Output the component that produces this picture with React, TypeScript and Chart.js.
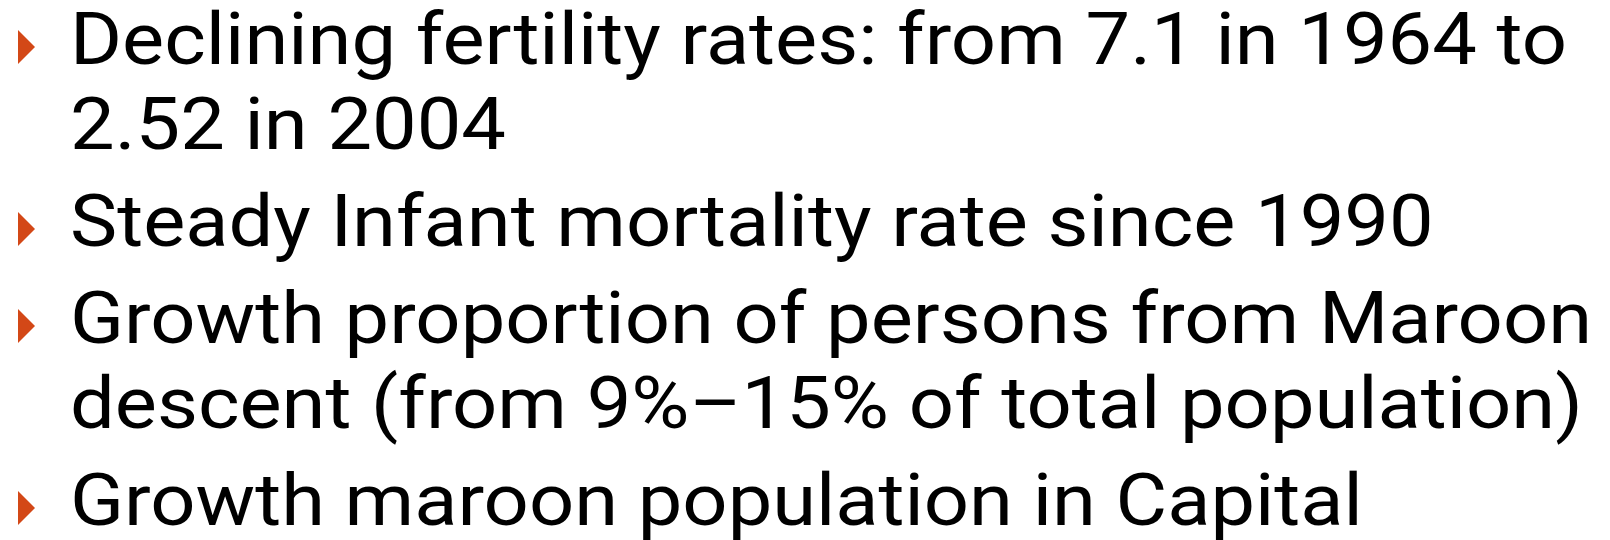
import { useEffect, useRef } from "react";
import { Chart, registerables } from "chart.js";

Chart.register(...registerables);

// Slide content: bullet items, each a list of wrapped lines
const bulletFertility = ["Declining fertility rates: from 7.1 in 1964 to", "2.52 in 2004"];
const bulletInfant = ["Steady Infant mortality rate since 1990"];
const bulletMaroon = ["Growth proportion of persons from Maroon", "descent (from 9%–15% of total population)"];
const bulletCapital = ["Growth maroon population in Capital"];
const bulletItems = [bulletFertility, bulletInfant, bulletMaroon, bulletCapital];

const W = 1610;
const H = 540;

const bulletTextPlugin = {
  id: "bulletText",
  afterDraw(chart: any) {
    const ctx = chart.ctx as CanvasRenderingContext2D;
    const fontSize = 73;
    const textX = 70;
    const targetWidth = 1497;
    const firstBaseline = 64;
    const lineHeight = 85;
    const paraGap = 97;
    const triLeft = 18;
    const triW = 17;
    const triH = 34;
    ctx.save();
    ctx.font = `400 ${fontSize}px Roboto`;
    ctx.textBaseline = "alphabetic";
    ctx.textAlign = "left";
    const sx = targetWidth / ctx.measureText(bulletItems[0][0]).width;
    let y = firstBaseline;
    bulletItems.forEach((lines, bi) => {
      if (bi > 0) y += paraGap;
      // bullet triangle
      ctx.fillStyle = "#D34817";
      ctx.beginPath();
      ctx.moveTo(triLeft, y - triH);
      ctx.lineTo(triLeft + triW, y - triH / 2);
      ctx.lineTo(triLeft, y);
      ctx.closePath();
      ctx.fill();
      lines.forEach((line, li) => {
        if (li > 0) y += lineHeight;
        ctx.save();
        ctx.translate(textX, y);
        ctx.scale(sx, 1);
        ctx.fillStyle = "#000000";
        ctx.fillText(line, 0, 0);
        ctx.restore();
      });
    });
    ctx.restore();
  },
};

export default function App() {
  const canvasRef = useRef<HTMLCanvasElement | null>(null);

  useEffect(() => {
    const canvas = canvasRef.current;
    if (!canvas) return;
    const chart = new Chart(canvas, {
      type: "scatter",
      data: { datasets: [] },
      options: {
        animation: false,
        responsive: false,
        devicePixelRatio: 1,
        layout: { padding: 0 },
        plugins: { legend: { display: false }, tooltip: { enabled: false }, title: { display: false } },
        scales: {
          x: { display: false, min: 0, max: W },
          y: { display: false, min: 0, max: H, reverse: true },
        },
      },
      plugins: [bulletTextPlugin],
    });
    return () => chart.destroy();
  }, []);

  return (
    <div style={{ position: "fixed", left: 0, top: 0, width: W, height: H, background: "#ffffff" }}>
      <canvas ref={canvasRef} width={W} height={H} style={{ display: "block" }} />
    </div>
  );
}
